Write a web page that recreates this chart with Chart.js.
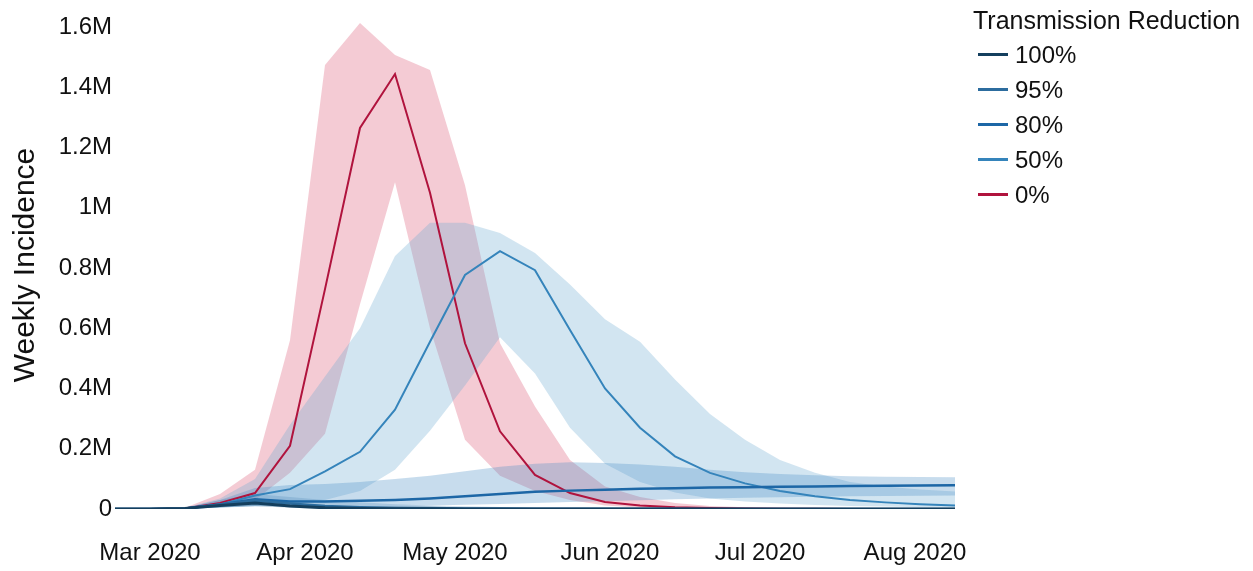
<!DOCTYPE html>
<html>
<head>
<meta charset="utf-8">
<script src="https://cdn.jsdelivr.net/npm/chart.js@4"></script>
<style>
  body { margin: 0; background: #fff; }
  #wrap { position: relative; width: 1253px; height: 571px; }
  #legend {
    position: absolute; left: 973px; top: 4px;
    font-family: "Liberation Sans", Arial, Helvetica, sans-serif;
    font-size: 24px; color: #111;
  }
  #legend .title { line-height: 33px; white-space: nowrap; font-size: 25px; }
  #legend .item { line-height: 35px; height: 35px; display: flex; align-items: center; }
  #legend .swatch { width: 30px; height: 2.5px; margin-left: 5px; margin-right: 7px; }
</style>
</head>
<body>
<div id="wrap">
  <canvas id="chart" width="1253" height="571"></canvas>
  <div id="legend"></div>
</div>
<script>
// weekly time points
const weeks = ['2020-02-23', '2020-03-01', '2020-03-08', '2020-03-15', '2020-03-22', '2020-03-29',
  '2020-04-05', '2020-04-12', '2020-04-19', '2020-04-26', '2020-05-03', '2020-05-10', '2020-05-17',
  '2020-05-24', '2020-05-31', '2020-06-07', '2020-06-14', '2020-06-21', '2020-06-28', '2020-07-05',
  '2020-07-12', '2020-07-19', '2020-07-26', '2020-08-02', '2020-08-09'];

// x axis ticks
const monthTicks = ['2020-03-01', '2020-04-01', '2020-05-01', '2020-06-01', '2020-07-01', '2020-08-01'];
const monthLabels = ['Mar 2020', 'Apr 2020', 'May 2020', 'Jun 2020', 'Jul 2020', 'Aug 2020'];

// weekly incidence, millions (median, lower, upper)
const mid0 = [0, 0, 0.002, 0.02, 0.053, 0.21, 0.73, 1.265, 1.444, 1.05, 0.55, 0.258, 0.113, 0.053, 0.023, 0.012, 0.006, 0.003, 0.002, 0.001, 0.001, 0, 0, 0, 0];
const lo0  = [0, 0, 0.001, 0.008, 0.03, 0.12, 0.25, 0.68, 1.085, 0.6, 0.23, 0.11, 0.06, 0.03, 0.012, 0.005, 0.002, 0.001, 0, 0, 0, 0, 0, 0, 0];
const hi0  = [0, 0, 0.004, 0.05, 0.13, 0.56, 1.474, 1.613, 1.507, 1.457, 1.075, 0.55, 0.34, 0.163, 0.075, 0.04, 0.02, 0.01, 0.006, 0.004, 0.002, 0.001, 0.001, 0, 0];

const mid50 = [0, 0, 0.002, 0.015, 0.045, 0.066, 0.125, 0.19, 0.33, 0.555, 0.777, 0.856, 0.793, 0.594, 0.4, 0.27, 0.175, 0.12, 0.085, 0.06, 0.042, 0.03, 0.022, 0.016, 0.012];
const lo50  = [0, 0, 0.001, 0.005, 0.01, 0.02, 0.03, 0.06, 0.13, 0.26, 0.41, 0.57, 0.45, 0.27, 0.15, 0.09, 0.055, 0.035, 0.025, 0.018, 0.013, 0.01, 0.008, 0.006, 0.005];
const hi50  = [0, 0, 0.004, 0.035, 0.1, 0.28, 0.44, 0.6, 0.84, 0.95, 0.95, 0.916, 0.85, 0.745, 0.63, 0.555, 0.43, 0.315, 0.23, 0.163, 0.12, 0.09, 0.075, 0.065, 0.058];

const mid80 = [0, 0, 0.002, 0.015, 0.032, 0.025, 0.025, 0.027, 0.03, 0.035, 0.042, 0.05, 0.057, 0.061, 0.064, 0.067, 0.069, 0.071, 0.072, 0.074, 0.075, 0.076, 0.077, 0.078, 0.079];
const lo80  = [0, 0, 0.001, 0.005, 0.008, 0.008, 0.008, 0.009, 0.01, 0.012, 0.014, 0.017, 0.02, 0.023, 0.026, 0.029, 0.032, 0.035, 0.037, 0.039, 0.041, 0.042, 0.043, 0.044, 0.045];
const hi80  = [0, 0, 0.004, 0.03, 0.07, 0.08, 0.083, 0.09, 0.1, 0.11, 0.125, 0.14, 0.15, 0.155, 0.153, 0.148, 0.14, 0.13, 0.122, 0.116, 0.112, 0.109, 0.107, 0.106, 0.105];

const mid95 = [0, 0, 0.002, 0.015, 0.028, 0.018, 0.01, 0.006, 0.004, 0.003, 0.002, 0.0015, 0.001, 0.001, 0.001, 0.0005, 0.0005, 0, 0, 0, 0, 0, 0, 0, 0];
const lo95  = [0, 0, 0.001, 0.006, 0.012, 0.006, 0.003, 0.001, 0.001, 0, 0, 0, 0, 0, 0, 0, 0, 0, 0, 0, 0, 0, 0, 0, 0];
const hi95  = [0, 0, 0.004, 0.03, 0.05, 0.04, 0.03, 0.022, 0.016, 0.012, 0.009, 0.007, 0.005, 0.004, 0.003, 0.002, 0.002, 0.001, 0.001, 0.001, 0.001, 0.001, 0, 0, 0];

const mid100 = [0, 0, 0.002, 0.012, 0.02, 0.01, 0.004, 0.002, 0.001, 0.0005, 0, 0, 0, 0, 0, 0, 0, 0, 0, 0, 0, 0, 0, 0, 0];
const lo100  = [0, 0, 0.001, 0.005, 0.01, 0.004, 0.001, 0, 0, 0, 0, 0, 0, 0, 0, 0, 0, 0, 0, 0, 0, 0, 0, 0, 0];
const hi100  = [0, 0, 0.003, 0.02, 0.03, 0.016, 0.007, 0.003, 0.002, 0.001, 0, 0, 0, 0, 0, 0, 0, 0, 0, 0, 0, 0, 0, 0, 0];

const FONT = '"Liberation Sans", Arial, Helvetica, sans-serif';
const start = Date.parse('2020-03-01');
const dayOf = d => (Date.parse(d) - start) / 864e5;
const weekDays = weeks.map(dayOf);
const tickDays = monthTicks.map(dayOf);
const toPoints = vals => vals.map((v, i) => ({ x: weekDays[i], y: v }));

const scenarios = [
  { label: '100%', mid: mid100, lo: lo100, hi: hi100, line: '#143f5e', band: 'rgba(30, 80, 120, 0.2)', width: 3 },
  { label: '95%', mid: mid95, lo: lo95, hi: hi95, line: '#2c6c9e', band: 'rgba(70, 130, 180, 0.25)', width: 2.5 },
  { label: '80%', mid: mid80, lo: lo80, hi: hi80, line: '#1d67a6', band: 'rgba(70, 140, 195, 0.3)', width: 2.5 },
  { label: '50%', mid: mid50, lo: lo50, hi: hi50, line: '#3584bb', band: 'rgba(107, 170, 210, 0.3)', width: 2 },
  { label: '0%', mid: mid0, lo: lo0, hi: hi0, line: '#b0133d', band: 'rgba(214, 70, 100, 0.28)', width: 2 }
];

const datasets = [];
scenarios.forEach(s => {
  datasets.push({ label: s.label, data: toPoints(s.mid), borderColor: s.line, borderWidth: s.width,
    pointRadius: 0, tension: 0, fill: false, order: 0 });
  datasets.push({ label: s.label + ' hi', data: toPoints(s.hi), borderWidth: 0, backgroundColor: s.band,
    pointRadius: 0, tension: 0, fill: '+1', order: 1 });
  datasets.push({ label: s.label + ' lo', data: toPoints(s.lo), borderWidth: 0,
    pointRadius: 0, tension: 0, fill: false, order: 1 });
});

new Chart(document.getElementById('chart'), {
  type: 'line',
  data: { datasets },
  options: {
    responsive: false,
    animation: false,
    layout: { padding: { top: 21, right: 298, left: 0, bottom: 0 } },
    plugins: { legend: { display: false }, tooltip: { enabled: false } },
    scales: {
      x: {
        type: 'linear',
        min: weekDays[0],
        max: weekDays[weekDays.length - 1],
        grid: { display: false, drawTicks: false },
        border: { display: false },
        afterBuildTicks: scale => { scale.ticks = tickDays.map(v => ({ value: v })); },
        afterFit: scale => { scale.height = 62; },
        ticks: {
          autoSkip: false, maxRotation: 0, padding: 30,
          color: '#111', font: { family: FONT, size: 24 },
          callback: (v, i) => monthLabels[i]
        }
      },
      y: {
        min: 0,
        max: 1.62,
        grid: { display: false, drawTicks: false },
        border: { display: false },
        afterFit: scale => { scale.width = 115; },
        ticks: {
          stepSize: 0.2, includeBounds: false, padding: 3,
          color: '#111', font: { family: FONT, size: 24 },
          callback: v => (v === 0 ? '0' : +v.toFixed(1) + 'M')
        },
        title: {
          display: true, text: 'Weekly Incidence', color: '#111',
          font: { family: FONT, size: 30 }, padding: { top: 8, bottom: 0 }
        }
      }
    }
  }
});

// legend
const legend = document.getElementById('legend');
legend.innerHTML = '<div class="title">Transmission Reduction</div>' +
  scenarios.map(s => `<div class="item"><span class="swatch" style="background:${s.line}"></span>${s.label}</div>`).join('');
</script>
</body>
</html>
